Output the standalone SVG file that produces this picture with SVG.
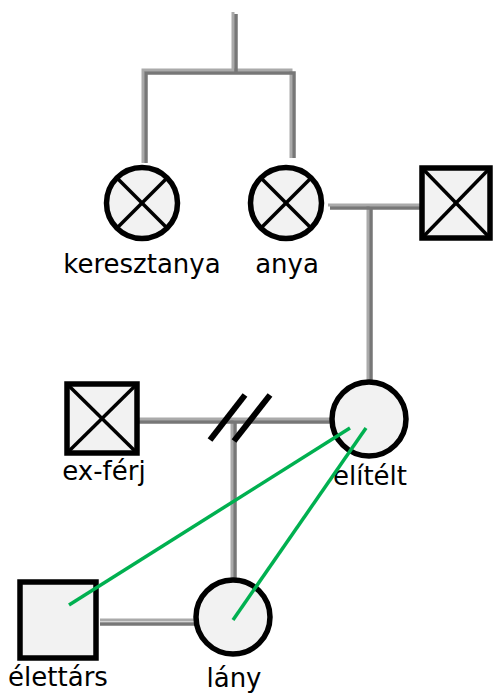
<svg xmlns="http://www.w3.org/2000/svg" width="496" height="693" viewBox="0 0 496 693">
<style>
.l1{stroke:#aaa;stroke-width:3;fill:none}
.l2{stroke:#777;stroke-width:3.5;fill:none}
.node{fill:#f2f2f2;stroke:#000;stroke-width:5.5}
.x{stroke:#000;stroke-width:3.5}
.lbl{font-family:"DejaVu Sans",sans-serif;font-size:26px;fill:#000;text-anchor:middle}
.rel{stroke:#00b050;stroke-width:3.5;fill:none}
.slash{stroke:#000;stroke-width:6}
</style>
<rect width="496" height="693" fill="#fff"/>
<g id="connectors">
<path class="l1" d="M233,12 V70 M143,163 V70 H291 V158"/>
<path class="l2" d="M236,14 V73 M146,163 V73 H294 V158"/>
<path class="l1" d="M328,205 H421 M368,205 V383"/>
<path class="l2" d="M330,208 H421 M371,208 V383"/>
<path class="l1" d="M137,419 H332 M232,419 V580"/>
<path class="l2" d="M137,422 H332 M235,422 V580"/>
<path class="l1" d="M100,620 H195"/>
<path class="l2" d="M100,624 H195"/>
<line class="slash" x1="210" y1="440" x2="245" y2="395"/>
<line class="slash" x1="234" y1="441" x2="270" y2="395"/>
</g>
<g id="keresztanya">
<circle class="node" cx="142" cy="203" r="35.5"/>
<line class="x" x1="117" y1="178" x2="167" y2="228"/>
<line class="x" x1="167" y1="178" x2="117" y2="228"/>
<text class="lbl" x="142" y="273">keresztanya</text>
</g>
<g id="anya">
<circle class="node" cx="286" cy="203" r="35.5"/>
<line class="x" x1="261" y1="178" x2="311" y2="228"/>
<line class="x" x1="311" y1="178" x2="261" y2="228"/>
<text class="lbl" x="287" y="273">anya</text>
</g>
<g id="apa">
<rect class="node" x="422" y="168" width="68" height="70" stroke-width="6"/>
<line class="x" x1="422" y1="168" x2="490" y2="238"/>
<line class="x" x1="490" y1="168" x2="422" y2="238"/>
</g>
<g id="ex-ferj">
<rect class="node" x="67" y="384" width="70" height="69" stroke-width="6"/>
<line class="x" x1="67" y1="384" x2="137" y2="453"/>
<line class="x" x1="137" y1="384" x2="67" y2="453"/>
<text class="lbl" x="104" y="480">ex-férj</text>
</g>
<g id="elitelt">
<circle class="node" cx="369" cy="419" r="37"/>
<text class="lbl" x="370" y="485">elítélt</text>
</g>
<g id="elettars">
<rect class="node" x="20" y="582" width="76" height="76" stroke-width="6"/>
<text class="lbl" x="58" y="686">élettárs</text>
</g>
<g id="lany">
<circle class="node" cx="233" cy="617" r="37"/>
<text class="lbl" x="234" y="687">lány</text>
</g>
<g id="relations">
<line class="rel" x1="69" y1="605" x2="350" y2="428"/>
<line class="rel" x1="233" y1="620" x2="366" y2="428"/>
</g>
</svg>
